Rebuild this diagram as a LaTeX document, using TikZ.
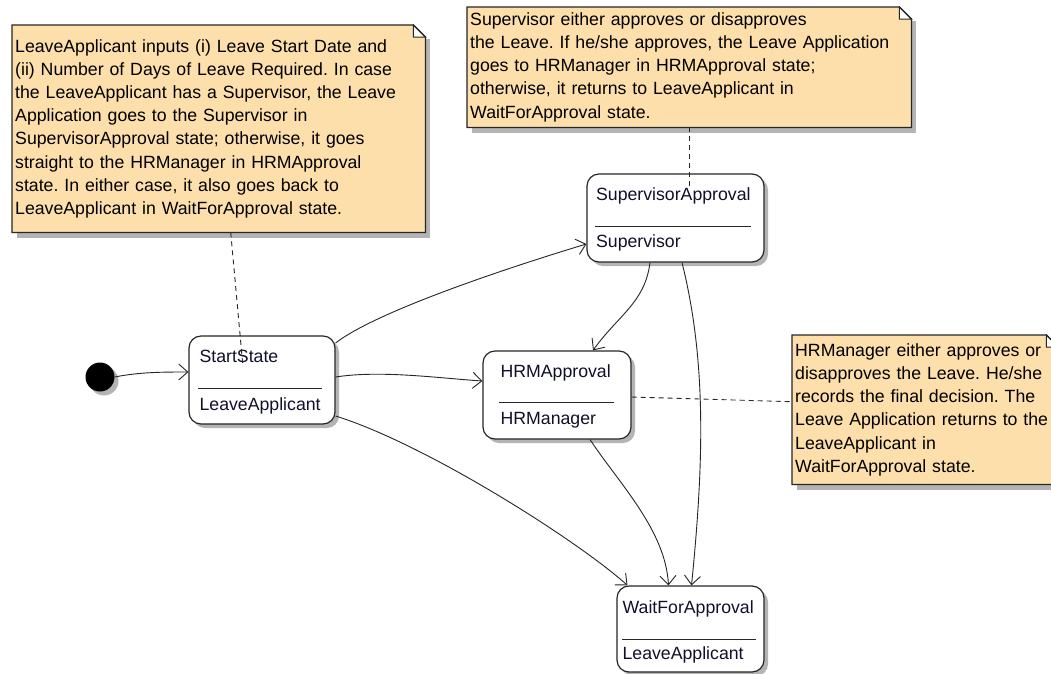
\documentclass[tikz,border=0pt]{standalone}
\usepackage{fontspec}
\setmainfont{Liberation Sans}
\usetikzlibrary{arrows.meta,calc,backgrounds}
\definecolor{notefill}{HTML}{FDDFAB}
\definecolor{shadowc}{HTML}{B4B4B4}
\definecolor{statetext}{HTML}{10102A}
\newcommand\mynotebody[1]{(#1.south west) -- (#1.north west) -- ($(#1.north east)+(-12,0)$) -- ($(#1.north east)+(0,12)$) -- (#1.south east) -- cycle}
\newcommand\mynoteflap[1]{($(#1.north east)+(-12,0)$) -- ($(#1.north east)+(-12,12)$) -- ($(#1.north east)+(0,12)$) -- cycle}
\begin{document}
\frenchspacing
\begin{tikzpicture}[x=1pt,y=-1pt,
  font=\fontsize{17.7}{23.2}\selectfont,
  notebox/.style={rectangle, anchor=north west, inner xsep=3pt, inner ysep=0pt, align=left},
  statebox/.style={rectangle, rounded corners=12pt, draw=black!85, line width=1.2pt, fill=white, inner sep=0pt},
  stateshadow/.style={fill=shadowc, rounded corners=12pt},
  lbl/.style={anchor=base west, inner sep=0pt, text=statetext},
  sep/.style={line width=1pt, black!85},
  conn/.style={line width=0.9pt, black!85, -{Straight Barb[length=9pt,width=16pt,line width=0.9pt]}},
  notelink/.style={line width=0.9pt, black!85, dash pattern=on 5pt off 4pt},
  ]
\useasboundingbox (0,0) rectangle (1051,673);

% ---------- notes ----------
\node[notebox, text width=407pt, minimum height=207pt] (n1) at (12,25)
 {LeaveApplicant inputs (i) Leave Start Date and\\
  (ii) Number of Days of Leave Required. In case\\
  the LeaveApplicant has a Supervisor, the Leave\\
  Application goes to the Supervisor in\\
  SupervisorApproval state; otherwise, it goes\\
  straight to the HRManager in HRMApproval\\
  state. In either case, it also goes back to\\
  LeaveApplicant in WaitForApproval state.};
\node[notebox, text width=438pt, minimum height=120pt] (n2) at (467,7)
 {Supervisor either approves or disapproves\\
  the Leave. If he/she approves, the Leave Application\\
  goes to HRManager in HRMApproval state;\\
  otherwise, it returns to LeaveApplicant in\\
  WaitForApproval state.};
\node[notebox, text width=260pt, minimum height=149pt] (n3) at (792,335)
 {HRManager either approves or\\
  disapproves the Leave. He/she\\
  records the final decision. The\\
  Leave Application returns to the\\
  LeaveApplicant in\\
  WaitForApproval state.};

\begin{scope}[on background layer]
  \fill[white] (0,0) rectangle (1051,673);
  \foreach \n in {n1,n2,n3}{
    \fill[shadowc] ($(\n.south west)+(5,0)$) rectangle ($(\n.south east)+(5,6)$);
    \fill[shadowc] ($(\n.north east)+(0,14)$) rectangle ($(\n.south east)+(5,0)$);
  }
  \foreach \n in {n1,n2,n3}{
    \fill[notefill] \mynotebody{\n};
    \fill[white] \mynoteflap{\n};
    \draw[line width=1.2pt, black!85, line join=miter] \mynotebody{\n};
    \draw[line width=1pt, black!85] \mynoteflap{\n};
  }
\end{scope}

% ---------- states ----------
\fill[shadowc] (104,381) circle (14.5);
\node[circle, fill=black, minimum size=29pt, inner sep=0pt] (init) at (100,377) {};

\fill[stateshadow] (193,340) rectangle (339,428);
\node[statebox, minimum width=146pt, minimum height=88pt] (start) at (262,380) {};
\fill[stateshadow] (487,355) rectangle (635,443);
\node[statebox, minimum width=148pt, minimum height=88pt] (hrm) at (557,395) {};
\fill[stateshadow] (591,178) rectangle (768,266);
\node[statebox, minimum width=177pt, minimum height=88pt] (sup) at (675.5,218) {};
\fill[stateshadow] (621,590) rectangle (768,676);
\node[statebox, minimum width=147pt, minimum height=86pt] (wait) at (690.5,629) {};

\node[lbl] (startT) at ($(start.north west)+(11,27)$) {StartState};
\draw[sep] ($(start.north west)+(10,53)$) -- ($(start.north west)+(134,53)$);
\node[lbl] (startB) at ($(start.north west)+(11,75)$) {LeaveApplicant};

\node[lbl] (hrmT) at ($(hrm.north west)+(18,27)$) {HRMApproval};
\draw[sep] ($(hrm.north west)+(17,52)$) -- ($(hrm.north west)+(132,52)$);
\node[lbl] (hrmB) at ($(hrm.north west)+(18,74)$) {HRManager};

\node[lbl] (supT) at ($(sup.north west)+(9.5,27)$) {SupervisorApproval};
\draw[sep] ($(sup.north west)+(9,53)$) -- ($(sup.north west)+(165,53)$);
\node[lbl] (supB) at ($(sup.north west)+(9.5,74)$) {Supervisor};

\node[lbl] (waitT) at ($(wait.north west)+(6,28)$) {WaitForApproval};
\draw[sep] ($(wait.north west)+(5.5,54)$) -- ($(wait.north west)+(140,54)$);
\node[lbl] (waitB) at ($(wait.north west)+(6,74.5)$) {LeaveApplicant};

% ---------- transitions ----------
\draw[conn] (init.east) .. controls +(25,-5) and +(-25,0) .. ([yshift=8pt]start.west);
\draw[conn] ([yshift=37pt]start.east) .. controls +(45,-35) and +(-50,15) .. ([yshift=-26pt]sup.west);
\draw[conn] ([yshift=3pt]start.east) .. controls +(45,-7) and +(-45,-3) .. ([yshift=14pt]hrm.west);
\draw[conn] ([yshift=-36pt]start.east) .. controls +(90,28) and +(-50,-45) .. ([xshift=-63pt]wait.north);
\draw[conn] ([xshift=-25.5pt]sup.south) .. controls +(-5,40) and +(25,-35) .. ([xshift=36pt]hrm.north);
\draw[conn] ([xshift=6.5pt]sup.south) .. controls +(25,100) and +(12,-120) .. ([xshift=1pt]wait.north);
\draw[conn] ([xshift=33pt]hrm.south) .. controls +(30,45) and +(-3,-55) .. ([xshift=-22pt]wait.north);

% ---------- note links ----------
\coordinate (startIn) at ($(start.center)+(-19,-13)$);
\coordinate (supIn) at ($(sup.center)+(14,-28)$);
\draw[notelink] ([xshift=12pt]n1.south) -- (startIn);
\draw[notelink] (n2.south -| supIn) -- (supIn);
\draw[notelink] ([yshift=-2pt]hrm.east) -- ([yshift=8pt]n3.west);
\end{tikzpicture}
\end{document}
